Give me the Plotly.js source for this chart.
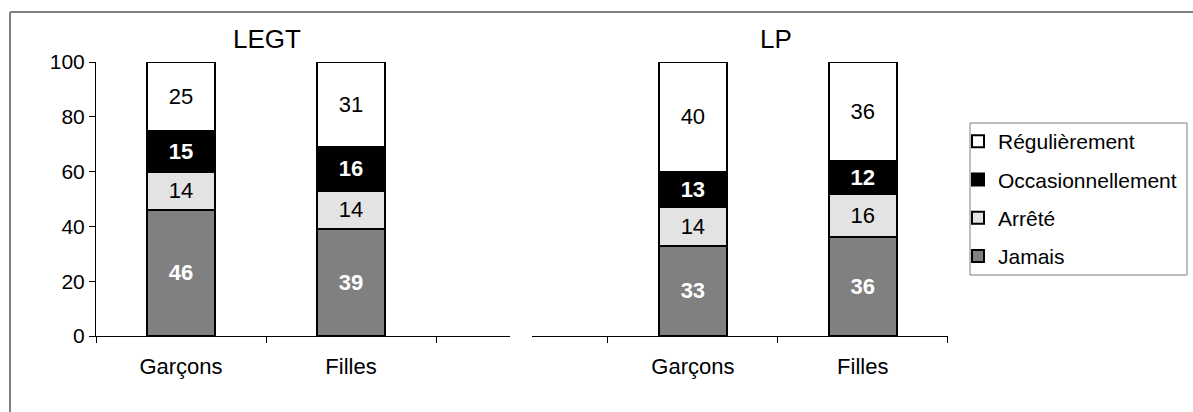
<!DOCTYPE html>
<html>
<head>
<meta charset="utf-8">
<script src="https://cdn.plot.ly/plotly-3.0.1.min.js"></script>
<style>
  html, body { margin: 0; padding: 0; background: #ffffff; }
  #chart { width: 1193px; height: 412px; }
</style>
</head>
<body>
<div id="chart"></div>
<script>
// ---- Data ----
const categories = ['Garçons', 'Filles'];
const panelTitles = ['LEGT', 'LP'];
const seriesNames = ['Jamais', 'Arrêté', 'Occasionnellement', 'Régulièrement'];

const legtJamais = [46, 39];
const legtArrete = [14, 14];
const legtOccasionnellement = [15, 16];
const legtRegulierement = [25, 31];

const lpJamais = [33, 36];
const lpArrete = [14, 16];
const lpOccasionnellement = [13, 12];
const lpRegulierement = [40, 36];

const yTickValues = [0, 20, 40, 60, 80, 100];

// ---- Styles ----
const FONT = 'Liberation Sans, Arial, sans-serif';
const fills = ['#808080', '#e3e3e3', '#000000', '#ffffff'];
const textColors = ['#ffffff', '#000000', '#ffffff', '#000000'];
const textWeights = ['bold', 'normal', 'bold', 'normal'];

const legtSeries = [legtJamais, legtArrete, legtOccasionnellement, legtRegulierement];
const lpSeries = [lpJamais, lpArrete, lpOccasionnellement, lpRegulierement];

const W = 1193, H = 412;
const px = v => v / W;
const py = v => (H - v) / H;

const traces = [];
function addPanel(series, xaxis, showLegend) {
  series.forEach((vals, i) => {
    traces.push({
      type: 'bar',
      x: categories,
      y: vals,
      xaxis: xaxis,
      yaxis: 'y',
      name: seriesNames[i],
      legendgroup: seriesNames[i],
      legendrank: 10 - i,
      showlegend: showLegend,
      width: 0.4,
      marker: { color: fills[i], line: { color: '#000000', width: 2 } },
      text: vals.map(String),
      textposition: 'inside',
      insidetextanchor: 'middle',
      textangle: 0,
      constraintext: 'none',
      textfont: { family: FONT, size: 22, color: textColors[i], weight: textWeights[i] },
      cliponaxis: false,
      hoverinfo: 'skip'
    });
  });
}
addPanel(legtSeries, 'x', true);
addPanel(lpSeries, 'x2', false);

const xCommon = {
  type: 'category',
  categoryorder: 'array',
  categoryarray: categories,
  tickson: 'boundaries',
  ticks: 'outside',
  ticklen: 6,
  tickwidth: 1,
  tickcolor: '#000000',
  showline: true,
  linecolor: '#000000',
  linewidth: 1,
  showgrid: false,
  zeroline: false,
  tickfont: { family: FONT, size: 22, color: '#000000' },
  ticklabelstandoff: 11,
  fixedrange: true,
  anchor: 'y'
};

const layout = {
  width: W,
  height: H,
  margin: { l: 0, r: 0, t: 0, b: 0, pad: 0 },
  paper_bgcolor: '#ffffff',
  plot_bgcolor: 'rgba(0,0,0,0)',
  barmode: 'stack',
  font: { family: FONT, size: 21, color: '#000000' },
  xaxis: Object.assign({}, xCommon, {
    domain: [px(96), px(510)],
    range: [-0.5, 1.935]
  }),
  xaxis2: Object.assign({}, xCommon, {
    domain: [px(532), px(948)],
    range: [-0.947, 1.502]
  }),
  yaxis: {
    domain: [py(336), py(62)],
    range: [0, 100],
    tickmode: 'array',
    tickvals: yTickValues,
    ticktext: yTickValues.map(String),
    ticks: 'outside',
    ticklen: 6,
    tickwidth: 1,
    tickcolor: '#000000',
    showline: true,
    linecolor: '#000000',
    linewidth: 1,
    showgrid: false,
    zeroline: false,
    tickfont: { family: FONT, size: 21, color: '#000000' },
    fixedrange: true,
    anchor: 'x'
  },
  legend: {
    x: px(958),
    y: py(121),
    xanchor: 'left',
    yanchor: 'top',
    bgcolor: 'rgba(0,0,0,0)',
    borderwidth: 0,
    font: { family: FONT, size: 21, color: '#000000' },
    traceorder: 'grouped',
    tracegroupgap: 8,
    itemwidth: 30
  },
  annotations: [
    { text: panelTitles[0], xref: 'paper', yref: 'paper', x: px(267), y: py(39),
      xanchor: 'center', yanchor: 'middle', showarrow: false,
      font: { family: FONT, size: 26, color: '#000000' } },
    { text: panelTitles[1], xref: 'paper', yref: 'paper', x: px(776), y: py(39),
      xanchor: 'center', yanchor: 'middle', showarrow: false,
      font: { family: FONT, size: 26, color: '#000000' } }
  ],
  shapes: [
    { type: 'line', xref: 'paper', yref: 'paper', x0: px(10), x1: 1, y0: py(12), y1: py(12),
      line: { color: '#7f7f7f', width: 2 } },
    { type: 'line', xref: 'paper', yref: 'paper', x0: px(10), x1: px(10), y0: py(12), y1: 0,
      line: { color: '#7f7f7f', width: 2 } },
    { type: 'rect', xref: 'paper', yref: 'paper', x0: px(970), x1: px(1187), y0: py(123), y1: py(275),
      line: { color: '#7f7f7f', width: 1 }, fillcolor: 'rgba(0,0,0,0)', layer: 'below' }
  ]
};

Plotly.newPlot('chart', traces, layout, { displayModeBar: false, staticPlot: true });
</script>
</body>
</html>
